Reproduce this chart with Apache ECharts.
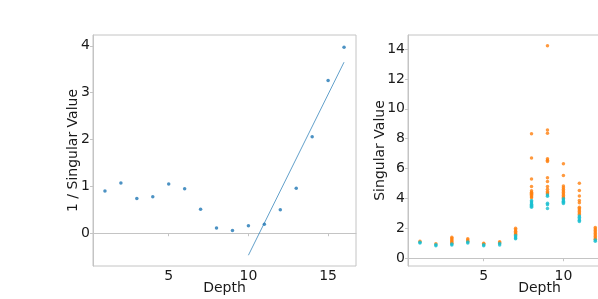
<!DOCTYPE html>
<html>
<head>
<meta charset="utf-8">
<script src="https://cdn.jsdelivr.net/npm/echarts@6/dist/echarts.min.js"></script>
<style>
html,body{margin:0;padding:0;background:#fff;}
#c{width:598px;height:299px;}
</style>
</head>
<body>
<div id="c"></div>
<script>
// ---- data ----
const depths = [1,2,3,4,5,6,7,8,9,10,11,12,13,14,15,16];
const invSV = [0.90,1.07,0.74,0.78,1.05,0.95,0.51,0.11,0.06,0.16,0.19,0.50,0.96,2.06,3.26,3.97];
const fitX = [10,16];
const fitY = [-0.47,3.65];

// right chart: singular values per depth (orange = upper values, cyan = lower values)
const svDepths = [1,2,3,4,5,6,7,8,9,10,11,12];
const svOrange = [
  [1.13],
  [0.97],
  [1.40,1.32,1.24,1.16,1.08,1.00],
  [1.30,1.22,1.14],
  [1.00,0.95],
  [1.10,1.04],
  [2.00,1.90,1.80,1.72,1.64,1.58],
  [8.33,6.70,5.31,4.80,4.52,4.42,4.35,4.28,4.20,4.12,4.05],
  [14.22,8.59,8.37,6.66,6.56,6.47,5.38,5.13,4.80,4.62,4.46,4.38,4.31],
  [6.32,5.54,4.84,4.72,4.60,4.50,4.40,4.30,4.20,4.10,4.03],
  [5.02,4.53,4.17,3.86,3.72,3.42,3.32,3.22,3.12,3.02,2.92],
  [2.05,1.95,1.85,1.75,1.65,1.55,1.45,1.35,1.27]
];
const svCyan = [
  [1.07,1.02],
  [0.90,0.84],
  [0.95,0.88],
  [1.09,1.02],
  [0.90,0.84],
  [0.98,0.88],
  [1.52,1.44,1.36,1.30],
  [3.86,3.78,3.70,3.62,3.55,3.48,3.42],
  [4.24,4.15,3.68,3.58,3.32],
  [3.98,3.90,3.82,3.74,3.66],
  [2.83,2.74,2.64,2.55,2.46],
  [1.22,1.14]
];

const xTicks = [5,10,15];
const yTicksLeft = [0,1,2,3,4];
const yTicksRight = [0,2,4,6,8,10,12,14];

// ---- build ----
function pairs(xs, ys){ return xs.map((x,i)=>[x, ys[i]]); }
function flat(ds, groups){
  const out=[];
  ds.forEach((d,i)=>groups[i].forEach(v=>out.push([d,v])));
  return out;
}

const txt = '#1a1a1a';
const font = 'DejaVu Sans';
const spine = '#c4c4c4';
const fs = 14;

function xAxis(gi){
  return {
    type:'value', gridIndex:gi, min:0.25, max:16.75,
    name:'Depth', nameLocation:'middle', nameGap:15, nameMoveOverlap:false,
    nameTextStyle:{color:txt, fontSize:fs, fontFamily:font},
    axisLine:{show:true, lineStyle:{color:spine, width:1}},
    axisTick:{show:true, length:3, lineStyle:{color:spine}, customValues:xTicks},
    axisLabel:{color:txt, fontSize:fs, fontFamily:font, margin:3, customValues:xTicks},
    splitLine:{show:false}
  };
}
function yAxis(gi, min, max, ticks, name, gap){
  return {
    type:'value', gridIndex:gi, min:min, max:max,
    name:name, nameLocation:'middle', nameGap:gap, nameRotate:90, nameMoveOverlap:false,
    nameTextStyle:{color:txt, fontSize:fs, fontFamily:font},
    axisLine:{show:true, lineStyle:{color:spine, width:1}},
    axisTick:{show:true, length:3, lineStyle:{color:spine}, customValues:ticks},
    axisLabel:{color:txt, fontSize:fs, fontFamily:font, margin:3, customValues:ticks},
    splitLine:{show:false}
  };
}

const chart = echarts.init(document.getElementById('c'), null, {renderer:'canvas'});
chart.setOption({
  animation:false,
  backgroundColor:'#ffffff',
  grid:[
    {left:93, top:35, width:263, height:231, show:true, borderColor:spine, borderWidth:1,
     backgroundColor:'transparent', containLabel:false, outerBoundsMode:'none'},
    {left:408, top:35, width:263, height:231, show:true, borderColor:spine, borderWidth:1,
     backgroundColor:'transparent', containLabel:false, outerBoundsMode:'none'}
  ],
  xAxis:[xAxis(0), xAxis(1)],
  yAxis:[
    yAxis(0, -0.70, 4.23, yTicksLeft, '1 / Singular Value', 13),
    yAxis(1, -0.52, 14.94, yTicksRight, 'Singular Value', 21)
  ],
  series:[
    {type:'scatter', xAxisIndex:0, yAxisIndex:0, data:pairs(depths, invSV),
     symbol:'circle', symbolSize:3.5, itemStyle:{color:'#1f77b4'}},
    {type:'line', xAxisIndex:0, yAxisIndex:0, data:pairs(fitX, fitY),
     showSymbol:false, lineStyle:{color:'#1f77b4', width:1, opacity:0.7}},
    {type:'scatter', xAxisIndex:1, yAxisIndex:1, data:flat(svDepths, svOrange),
     symbol:'circle', symbolSize:3.5, itemStyle:{color:'#ff7f0e'}},
    {type:'scatter', xAxisIndex:1, yAxisIndex:1, data:flat(svDepths, svCyan),
     symbol:'circle', symbolSize:3.5, itemStyle:{color:'#17becf'}}
  ]
});
</script>
</body>
</html>
